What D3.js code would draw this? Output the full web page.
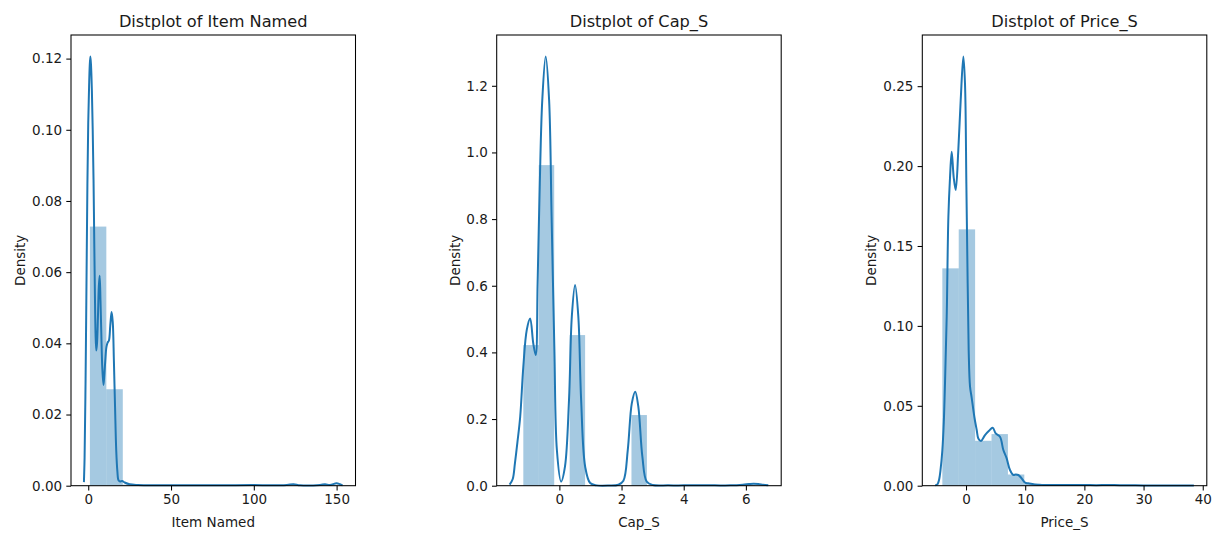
<!DOCTYPE html>
<html>
<head>
<meta charset="utf-8">
<script src="https://cdn.jsdelivr.net/npm/d3@7"></script>
<style>
  html, body { margin: 0; padding: 0; background: #fff; }
  svg { display: block; }
  text { font-family: "DejaVu Sans", sans-serif; fill: #1a1a1a; }
</style>
</head>
<body>
<svg id="chart" width="1216" height="533"></svg>
<script>
// ---------- data ----------
const titles = ["Distplot of Item Named", "Distplot of Cap_S", "Distplot of Price_S"];
const xLabels = ["Item Named", "Cap_S", "Price_S"];
const yLabel = "Density";

// Panel 1: Item Named
const itemBinEdges = [1, 10.93, 20.87, 30.8, 40.73, 50.67, 60.6, 70.53, 80.47, 90.4, 100.33, 110.27, 120.2, 130.13, 140.07, 150];
const itemBinDensity = [0.0728, 0.0271, 0.0003, 0, 0, 0, 0, 0, 0, 0, 0, 0, 0.0001, 0.0001, 0.0002];
const itemKdeX = [-2.6, -2.2, -1.6, -1.0, -0.5, 0.0, 0.5, 0.9, 1.3, 1.7, 2.2, 2.7, 3.2, 3.6, 4.0, 4.4, 4.85, 5.3, 5.85, 6.4, 6.9, 7.4, 7.9, 8.5, 9.2, 9.7, 10.3, 11.0, 11.7, 12.5, 13.3, 14.1, 14.8, 15.5, 16.2, 16.9, 17.6, 18.3, 19.2, 20.5, 22, 25, 30, 40, 60, 80, 100, 110, 120, 124, 128, 140, 143, 146, 150, 152, 153.6];
const itemKdeY = [0.001, 0.008, 0.030, 0.060, 0.085, 0.102, 0.112, 0.118, 0.1206, 0.118, 0.111, 0.100, 0.086, 0.070, 0.055, 0.043, 0.038, 0.040, 0.0473, 0.056, 0.059, 0.052, 0.0427, 0.033, 0.0283, 0.031, 0.0352, 0.039, 0.0402, 0.0408, 0.045, 0.0488, 0.046, 0.035, 0.022, 0.010, 0.004, 0.0015, 0.0012, 0.0013, 0.0009, 0.0004, 0.0002, 0.0001, 0.0001, 0.0001, 0.0002, 0.0001, 0.0002, 0.0004, 0.0001, 0.0002, 0.0004, 0.0002, 0.0007, 0.0004, 0.0001];
const itemXTicks = [0, 50, 100, 150];
const itemYTicks = [0, 0.02, 0.04, 0.06, 0.08, 0.10, 0.12];

// Panel 2: Cap_S
const capBinEdges = [-1.16, -0.663, -0.166, 0.331, 0.828, 1.325, 1.822, 2.319, 2.816, 3.313, 3.81, 4.307, 4.804, 5.301, 5.798, 6.295];
const capBinDensity = [0.422, 0.962, 0, 0.452, 0, 0, 0, 0.212, 0, 0, 0, 0, 0, 0, 0.002];
const capKdeX = [-1.6, -1.5, -1.43, -1.35, -1.26, -1.16, -1.05, -0.94, -0.84, -0.76, -0.70, -0.63, -0.55, -0.44, -0.33, -0.25, -0.16, -0.08, 0.055, 0.18, 0.31, 0.40, 0.505, 0.61, 0.70, 0.83, 0.99, 1.2, 1.6, 1.9, 2.06, 2.20, 2.33, 2.44, 2.54, 2.67, 2.81, 3.0, 3.5, 4.0, 4.5, 5.0, 5.5, 5.9, 6.1, 6.25, 6.4, 6.55, 6.72];
const capKdeY = [0.003, 0.02, 0.067, 0.13, 0.207, 0.357, 0.467, 0.502, 0.427, 0.392, 0.607, 0.907, 1.157, 1.288, 1.157, 0.807, 0.407, 0.107, 0.012, 0.057, 0.257, 0.507, 0.602, 0.507, 0.257, 0.057, 0.008, 0.001, 0.0005, 0.003, 0.015, 0.107, 0.247, 0.282, 0.237, 0.087, 0.012, 0.002, 0.001, 0.001, 0.001, 0.001, 0.001, 0.003, 0.005, 0.006, 0.005, 0.003, 0.001];
const capXTicks = [0, 2, 4, 6];
const capYTicks = [0, 0.2, 0.4, 0.6, 0.8, 1.0, 1.2];

// Panel 3: Price_S
const priceBinEdges = [-4.0, -1.23, 1.54, 4.31, 7.08, 9.85, 12.62, 15.39, 18.16, 20.93, 23.7, 26.47, 29.24, 32.01, 34.78, 37.55];
const priceBinDensity = [0.136, 0.1604, 0.0281, 0.0323, 0.007, 0.0012, 0.0003, 0.0002, 0.0002, 0.0002, 0.0002, 0, 0, 0, 0.0002];
const priceKdeX = [-5.2, -4.8, -4.56, -4.3, -4.0, -3.75, -3.55, -3.26, -2.98, -2.7, -2.42, -2.08, -1.74, -1.30, -0.90, -0.45, -0.17, 0.06, 0.28, 0.45, 0.68, 0.96, 1.41, 1.80, 2.08, 2.53, 3.21, 3.89, 4.51, 5.02, 5.74, 6.31, 6.87, 7.43, 8.0, 8.4, 8.84, 9.4, 9.97, 10.5, 11.6, 13, 15, 18, 20, 22, 24, 26, 30, 34, 38.5];
const priceKdeY = [0.0002, 0.001, 0.0036, 0.010, 0.022, 0.040, 0.064, 0.106, 0.168, 0.193, 0.209, 0.193, 0.185, 0.210, 0.241, 0.2686, 0.2515, 0.189, 0.1265, 0.085, 0.062, 0.055, 0.043, 0.035, 0.0296, 0.028, 0.0317, 0.0344, 0.0363, 0.0327, 0.0306, 0.0223, 0.0171, 0.0098, 0.0067, 0.0070, 0.0067, 0.0046, 0.0019, 0.0015, 0.0008, 0.0005, 0.0004, 0.0004, 0.0005, 0.0003, 0.0005, 0.0003, 0.0002, 0.0002, 0.0001];
const priceXTicks = [0, 10, 20, 30, 40];
const priceYTicks = [0, 0.05, 0.10, 0.15, 0.20, 0.25];

// ---------- layout ----------
const panels = [
  { edges: itemBinEdges, dens: itemBinDensity, kx: itemKdeX, ky: itemKdeY, xt: itemXTicks, yt: itemYTicks, yfmt: ".2f", left: 71 },
  { edges: capBinEdges, dens: capBinDensity, kx: capKdeX, ky: capKdeY, xt: capXTicks, yt: capYTicks, yfmt: ".1f", left: 496.7 },
  { edges: priceBinEdges, dens: priceBinDensity, kx: priceKdeX, ky: priceKdeY, xt: priceXTicks, yt: priceYTicks, yfmt: ".2f", left: 922.3 }
];
const plotTop = 35, plotH = 450.7, plotW = 284.5;
const blue = "#1f77b4";
const fs = 13.5;

const svg = d3.select("#chart");

panels.forEach((p, i) => {
  const g = svg.append("g").attr("transform", `translate(${p.left},${plotTop})`);
  const [xmin, xmax] = d3.extent(p.kx);
  const pad = (xmax - xmin) * 0.05;
  const x = d3.scaleLinear().domain([xmin - pad, xmax + pad]).range([0, plotW]);
  const y = d3.scaleLinear().domain([0, d3.max(p.ky) * 1.05]).range([plotH, 0]);

  // bars
  const bins = p.dens.map((d, k) => ({ x0: p.edges[k], x1: p.edges[k + 1], d }));
  g.selectAll("rect.bar").data(bins).join("rect")
    .attr("class", "bar")
    .attr("x", d => x(d.x0))
    .attr("width", d => x(d.x1) - x(d.x0))
    .attr("y", d => y(d.d))
    .attr("height", d => y(0) - y(d.d))
    .attr("fill", blue).attr("fill-opacity", 0.4);

  // kde line
  const pts = p.kx.map((v, k) => [v, p.ky[k]]);
  g.append("path").datum(pts)
    .attr("d", d3.line().x(d => x(d[0])).y(d => y(d[1])).curve(d3.curveCatmullRom.alpha(0.5)))
    .attr("fill", "none").attr("stroke", blue).attr("stroke-width", 2)
    .attr("stroke-linejoin", "round");

  // frame
  g.append("rect").attr("x", 0).attr("y", 0).attr("width", plotW).attr("height", plotH)
    .attr("fill", "none").attr("stroke", "#000").attr("stroke-width", 1.05);

  // x axis
  const xa = g.append("g").attr("transform", `translate(0,${plotH})`)
    .call(d3.axisBottom(x).tickValues(p.xt).tickFormat(d3.format("d")).tickSize(4.7).tickPadding(4.2));
  // y axis
  const ya = g.append("g")
    .call(d3.axisLeft(y).tickValues(p.yt).tickFormat(d3.format(p.yfmt)).tickSize(4.7).tickPadding(4.2));
  [xa, ya].forEach(a => {
    a.select(".domain").remove();
    a.selectAll(".tick line").attr("stroke", "#000").attr("stroke-width", 1.05);
    a.selectAll(".tick text").attr("font-size", fs).attr("font-family", "DejaVu Sans").attr("fill", "#1a1a1a");
  });

  // title
  g.append("text").attr("x", plotW / 2).attr("y", -8.2)
    .attr("text-anchor", "middle").attr("font-size", 16.2).text(titles[i]);
  // x label
  g.append("text").attr("x", plotW / 2).attr("y", plotH + 41)
    .attr("text-anchor", "middle").attr("font-size", fs).text(xLabels[i]);
  // y label
  const yl = [ -46, -36.7, -46.3 ][i];
  g.append("text").attr("transform", `translate(${yl},${plotH / 2}) rotate(-90)`)
    .attr("text-anchor", "middle").attr("font-size", fs).text(yLabel);
});
</script>
</body>
</html>
